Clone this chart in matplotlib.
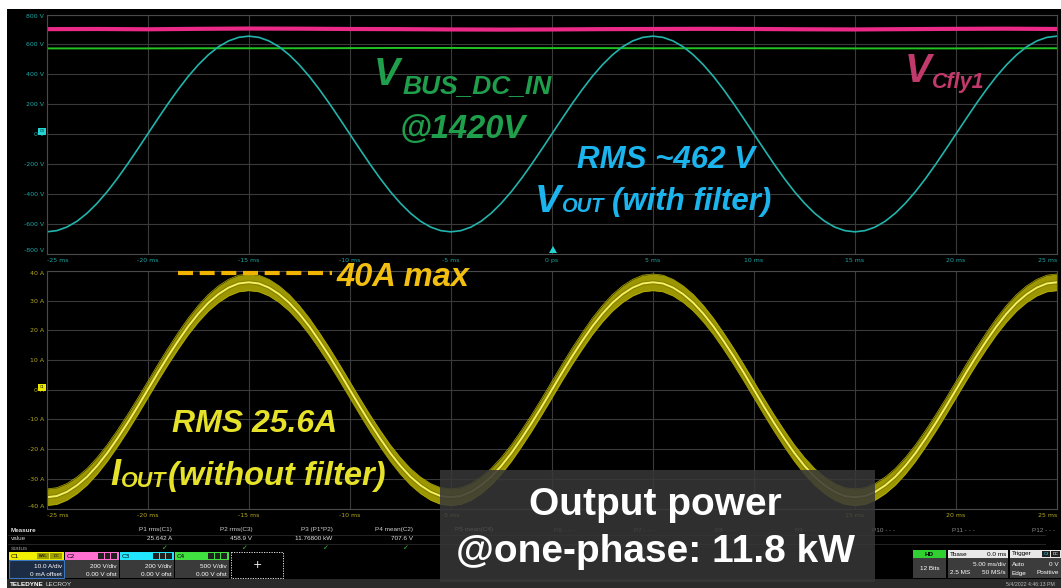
import numpy as np
import matplotlib.pyplot as plt
from matplotlib.patches import Rectangle, Polygon

W, H = 1061, 588

# ---- data ----
t_ms = np.linspace(-25, 25, 101)          # 0.5 ms per sample

# C3 : VOUT (with filter), volts
v_out = [
    -655, -647, -623, -584, -530, -463, -385, -297, -202, -102,
    0, 102, 202, 297, 385, 463, 530, 584, 623, 647,
    655, 647, 623, 584, 530, 463, 385, 297, 202, 102,
    0, -102, -202, -297, -385, -463, -530, -584, -623, -647,
    -655, -647, -623, -584, -530, -463, -385, -297, -202, -102,
    0, 102, 202, 297, 385, 463, 530, 584, 623, 647,
    655, 647, 623, 584, 530, 463, 385, 297, 202, 102,
    0, -102, -202, -297, -385, -463, -530, -584, -623, -647,
    -655, -647, -623, -584, -530, -463, -385, -297, -202, -102,
    0, 102, 202, 297, 385, 463, 530, 584, 623, 647,
    655]

# C1 : IOUT (without filter), amps
i_out = [
    -36.2, -35.8, -34.4, -32.2, -29.3, -25.6, -21.3, -16.4, -11.2, -5.7,
    0, 5.7, 11.2, 16.4, 21.3, 25.6, 29.3, 32.2, 34.4, 35.8,
    36.2, 35.8, 34.4, 32.2, 29.3, 25.6, 21.3, 16.4, 11.2, 5.7,
    0, -5.7, -11.2, -16.4, -21.3, -25.6, -29.3, -32.2, -34.4, -35.8,
    -36.2, -35.8, -34.4, -32.2, -29.3, -25.6, -21.3, -16.4, -11.2, -5.7,
    0, 5.7, 11.2, 16.4, 21.3, 25.6, 29.3, 32.2, 34.4, 35.8,
    36.2, 35.8, 34.4, 32.2, 29.3, 25.6, 21.3, 16.4, 11.2, 5.7,
    0, -5.7, -11.2, -16.4, -21.3, -25.6, -29.3, -32.2, -34.4, -35.8,
    -36.2, -35.8, -34.4, -32.2, -29.3, -25.6, -21.3, -16.4, -11.2, -5.7,
    0, 5.7, 11.2, 16.4, 21.3, 25.6, 29.3, 32.2, 34.4, 35.8,
    36.2]
i_ripple = 2.8   # half width of the switching ripple band

# C2 / C4 : slow DC traces, every 2.5 ms
t_dc = np.linspace(-25, 25, 21)
v_cfly = [702, 703, 701, 704, 706, 705, 703, 702, 700, 699, 700,
          702, 703, 704, 703, 701, 700, 702, 704, 705, 703]
v_bus = [573, 573, 573, 574, 574, 574, 575, 576, 576, 575, 575,
         575, 574, 574, 574, 574, 573, 573, 573, 574, 574]

v_ticks = [800, 600, 400, 200, 0, -200, -400, -600, -800]
i_ticks = [40, 30, 20, 10, 0, -10, -20, -30, -40]
t_ticks = [-25, -20, -15, -10, -5, 0, 5, 10, 15, 20, 25]
t_labels = ["-25 ms", "-20 ms", "-15 ms", "-10 ms", "-5 ms", "0 ps",
            "5 ms", "10 ms", "15 ms", "20 ms", "25 ms"]

meas_names = ["P1 rms(C1)", "P2 rms(C3)", "P3 (P1*P2)", "P4 mean(C2)", "P5 mean(C4)",
              "P6 - - -", "P7 - - -", "P8 - - -", "P9 - - -", "P10 - - -", "P11 - - -", "P12 - - -"]
meas_values = ["25.642 A", "458.9 V", "11.76800 kW", "707.6 V"]


def rect(x0, y0, x1, y1):
    return [x0 / W, 1 - y1 / H, (x1 - x0) / W, (y1 - y0) / H]


fig = plt.figure(figsize=(W / 100, H / 100), dpi=100, facecolor="white")

bg = fig.add_axes([0, 0, 1, 1], zorder=0)
bg.set_xlim(0, W)
bg.set_ylim(H, 0)
bg.axis("off")
bg.add_patch(Rectangle((7, 9), W - 7, H - 9, fc="black", lw=0))

TEAL = "#1fa6a6"
OLIVE = "#b4aa1e"


def style_axes(ax, yt, ylab, lab_col, tlab_col):
    ax.set_facecolor("black")
    ax.set_xlim(-25, 25)
    ax.set_xticks(t_ticks)
    ax.set_xticklabels(t_labels)
    ax.set_yticks(yt)
    ax.set_yticklabels(ylab)
    ax.grid(color="#3a3a3a", lw=0.8)
    for s in ax.spines.values():
        s.set_color("#4a4a4a")
        s.set_linewidth(0.8)
    ax.tick_params(length=0, pad=2, labelsize=4.5)
    ax.tick_params(axis="y", labelcolor=lab_col)
    ax.tick_params(axis="x", labelcolor=tlab_col, pad=3)
    xl = ax.get_xticklabels()
    xl[0].set_ha("left")
    xl[-1].set_ha("right")
    yl = ax.get_yticklabels()
    yl[0].set_va("top")
    yl[-1].set_va("bottom")
    ax.set_axisbelow(True)
    return xl


ax_v = fig.add_axes(rect(46.7, 14.5, 1057, 253.5), zorder=1)
ax_v.set_ylim(-800, 800)
style_axes(ax_v, v_ticks, [f"{v} V" for v in v_ticks], TEAL, TEAL)
ax_v.plot(t_dc, v_cfly, color="#ea2a86", lw=3.0, solid_capstyle="butt")
ax_v.plot(t_dc, v_bus, color="#22c222", lw=1.4)
ax_v.plot(t_ms, v_out, color="#22b4ac", lw=1.2)

ax_i = fig.add_axes(rect(46.7, 271, 1057, 508.5), zorder=1)
ax_i.set_ylim(-40, 40)
xl_i = style_axes(ax_i, i_ticks, [f"{v} A" for v in i_ticks], OLIVE, OLIVE)
# labels that sit fully under the output-power call-out
for k in (5, 6, 7):
    xl_i[k].set_visible(False)
i_arr = np.array(i_out)
ax_i.fill_between(t_ms, i_arr - i_ripple, i_arr + i_ripple, color="#9c9600", lw=0)
ax_i.plot(t_ms, i_arr + i_ripple, color="#b4ae08", lw=0.5)
ax_i.plot(t_ms, i_arr - i_ripple, color="#b4ae08", lw=0.5)
ax_i.plot(t_ms, i_arr, color="#858000", lw=3.0)
ax_i.plot(t_ms, i_arr, color="#f4f060", lw=1.4)

# ---- overlay in pixel coordinates ----
ov = fig.add_axes([0, 0, 1, 1], zorder=5)
ov.set_xlim(0, W)
ov.set_ylim(H, 0)
ov.axis("off")
ov.patch.set_alpha(0)

# channel zero markers and trigger marker
ov.add_patch(Rectangle((38, 128), 8, 7, fc="#22d4d4", lw=0))
ov.text(42, 131.5, "C3", fontsize=2.5, ha="center", va="center", color="black")
ov.add_patch(Rectangle((38, 384), 8, 7, fc="#e8e800", lw=0))
ov.text(42, 387.5, "C1", fontsize=2.5, ha="center", va="center", color="black")
ov.add_patch(Polygon([[549, 253], [557, 253], [553, 246]], closed=True, fc="#22d4d4", lw=0))

ANN = dict(family="Liberation Sans", weight="bold", style="italic", va="baseline")

GREEN = "#1f9e4c"
ov.text(374, 85, "V", fontsize=28, color=GREEN, **ANN)
ov.text(403, 93, "BUS_DC_IN", fontsize=19, color=GREEN, **ANN)
ov.text(463, 138, "@1420V", fontsize=23.5, color=GREEN, ha="center", **ANN)

PINK = "#c23a6c"
ov.text(905, 82, "V", fontsize=28.5, color=PINK, **ANN)
ov.text(932, 88, "Cfly1", fontsize=15.5, color=PINK, **ANN)

BLUE = "#1cb4ec"
ov.text(577, 168, "RMS ~462 V", fontsize=22.5, color=BLUE, **ANN)
ov.text(535, 212, "V", fontsize=28, color=BLUE, **ANN)
ov.text(561, 212, "OUT", fontsize=14.5, color=BLUE, **ANN)
ov.text(612, 210, "(with filter)", fontsize=22.5, color=BLUE, **ANN)

GOLD = "#f2bf10"
ov.plot([178, 332], [273, 273], color="#f0b400", lw=3, dashes=(3.6, 1.6), solid_capstyle="butt")
ov.text(337, 286, "40A max", fontsize=23.5, color=GOLD, **ANN)

YEL = "#e6e22a"
ov.text(172, 432, "RMS 25.6A", fontsize=23, color=YEL, **ANN)
ov.text(110, 485, "I", fontsize=26, color=YEL, **ANN)
ov.text(121, 487, "OUT", fontsize=15.5, color=YEL, **ANN)
ov.text(168, 485, "(without filter)", fontsize=23.5, color=YEL, **ANN)

# ---- measurement table ----
SM = dict(family="Liberation Sans", fontsize=4.6, va="center")
for yy in (534.5, 543.5):
    ov.plot([8, 1045], [yy, yy], color="#2a2a2a", lw=0.6)
ov.text(11, 530, "Measure", color="#e0e0e0", weight="bold", **SM)
ov.text(11, 539, "value", color="#d0d0d0", **SM)
ov.text(11, 548, "status", color="#909090", **SM)
for k, name in enumerate(meas_names):
    xr = 172 + 80.3 * k
    ov.text(xr, 530, name, color="#d0d0d0" if k < 5 else "#8a8a8a", ha="right", **SM)
    if k < len(meas_values):
        ov.text(xr, 539, meas_values[k], color="#e0e0e0", ha="right", **SM)
        ov.text(xr - 4, 548, "\u2713", color="#3cc83c", ha="right", family="DejaVu Sans",
                fontsize=5, va="center", weight="bold")

chans = [("C1", 9, 64, "#f0f000", "10.0 A/div", "0 mA offset"),
         ("C2", 65, 119, "#ff70d0", "200 V/div", "0.00 V ofst"),
         ("C3", 120, 174, "#22e6ff", "200 V/div", "0.00 V ofst"),
         ("C4", 175, 229, "#40e040", "500 V/div", "0.00 V ofst")]
for k, (name, x0, x1, col, l1, l2) in enumerate(chans):
    ov.add_patch(Rectangle((x0, 552), x1 - x0, 8, fc=col, lw=0))
    ov.text(x0 + 2, 556, name, color="black", fontsize=4.5, va="center")
    if k == 0:
        ov.add_patch(Rectangle((x1 - 27, 553), 12, 6, fc="#a0a000", lw=0))
        ov.add_patch(Rectangle((x1 - 14, 553), 12, 6, fc="#a0a000", lw=0))
        ov.text(x1 - 21, 556, "BWL", fontsize=2.8, ha="center", va="center", color="black")
        ov.text(x1 - 8, 556, "DC", fontsize=2.8, ha="center", va="center", color="black")
        ov.add_patch(Rectangle((x0, 560), x1 - x0, 18, fc="#1c2c44", ec="#3a78c0", lw=0.8))
    else:
        for j in range(3):
            ov.add_patch(Rectangle((x1 - 21 + 6.5 * j, 553), 5.5, 6, fc="#202020", lw=0))
        ov.add_patch(Rectangle((x0, 560), x1 - x0, 18, fc="#3a3a3a", lw=0))
    ov.text(x1 - 2, 566, l1, color="white", ha="right", **SM)
    ov.text(x1 - 2, 574, l2, color="white", ha="right", **SM)
ov.add_patch(Rectangle((231, 552), 52, 26, fc="black", ec="white", lw=0.6, ls=(0, (1.5, 1.5))))
ov.text(257, 565, "+", color="white", fontsize=8, ha="center", va="center")

# timebase / trigger boxes on the right
ov.add_patch(Rectangle((913, 550), 33, 8, fc="#30d030", lw=0))
ov.text(929.5, 554, "HD", color="black", weight="bold", ha="center", **SM)
ov.add_patch(Rectangle((913, 558), 33, 20, fc="#3c3c3c", lw=0))
ov.text(929.5, 568, "12 Bits", color="white", ha="center", **SM)
ov.add_patch(Rectangle((948, 550), 60, 8, fc="#e8e8e8", lw=0))
ov.text(950, 554, "Tbase", color="black", **SM)
ov.text(1006, 554, "0.0 ms", color="black", ha="right", **SM)
ov.add_patch(Rectangle((948, 558), 60, 20, fc="#3c3c3c", lw=0))
ov.text(1006, 564, "5.00 ms/div", color="white", ha="right", **SM)
ov.text(950, 573, "2.5 MS", color="white", **SM)
ov.text(1006, 573, "50 MS/s", color="white", ha="right", **SM)
ov.add_patch(Rectangle((1010, 550), 51, 8, fc="#e8e8e8", lw=0))
ov.text(1012, 554, "Trigger", color="black", **SM)
ov.add_patch(Rectangle((1042, 551), 8, 6, fc="#222222", lw=0))
ov.text(1046, 554, "C3", color="#22e6ff", fontsize=3, ha="center", va="center")
ov.add_patch(Rectangle((1051, 551), 9, 6, fc="#222222", lw=0))
ov.text(1055.5, 554, "DC", color="white", fontsize=3, ha="center", va="center")
ov.add_patch(Rectangle((1010, 558), 51, 20, fc="#3c3c3c", lw=0))
ov.text(1012, 564, "Auto", color="white", **SM)
ov.text(1059, 564, "0 V", color="white", ha="right", **SM)
ov.text(1012, 573, "Edge", color="white", **SM)
ov.text(1059, 573, "Positive", color="white", ha="right", **SM)

# bottom strip
ov.add_patch(Rectangle((7, 579), W - 7, 9, fc="#2a2a2a", lw=0))
ov.text(10, 584, "TELEDYNE", color="white", weight="bold", **SM)
ov.text(45, 584, "LECROY", color="#dddddd", **SM)
ov.text(1055, 584, "5/4/2022 4:46:13 PM", color="#bbbbbb", ha="right",
        family="Liberation Sans", fontsize=3.8, va="center")

# output power call-out
ov.add_patch(Rectangle((440, 470), 435, 112, fc="#383838", alpha=0.86, lw=0, zorder=10))
BOX = dict(family="Liberation Sans", weight="bold", color="white", ha="center",
           va="baseline", fontsize=28, zorder=11)
ov.text(655, 515, "Output power", **BOX)
ov.text(656, 562, "@one-phase: 11.8 kW", **BOX)

fig.savefig("out.png", dpi=100, facecolor=fig.get_facecolor())
